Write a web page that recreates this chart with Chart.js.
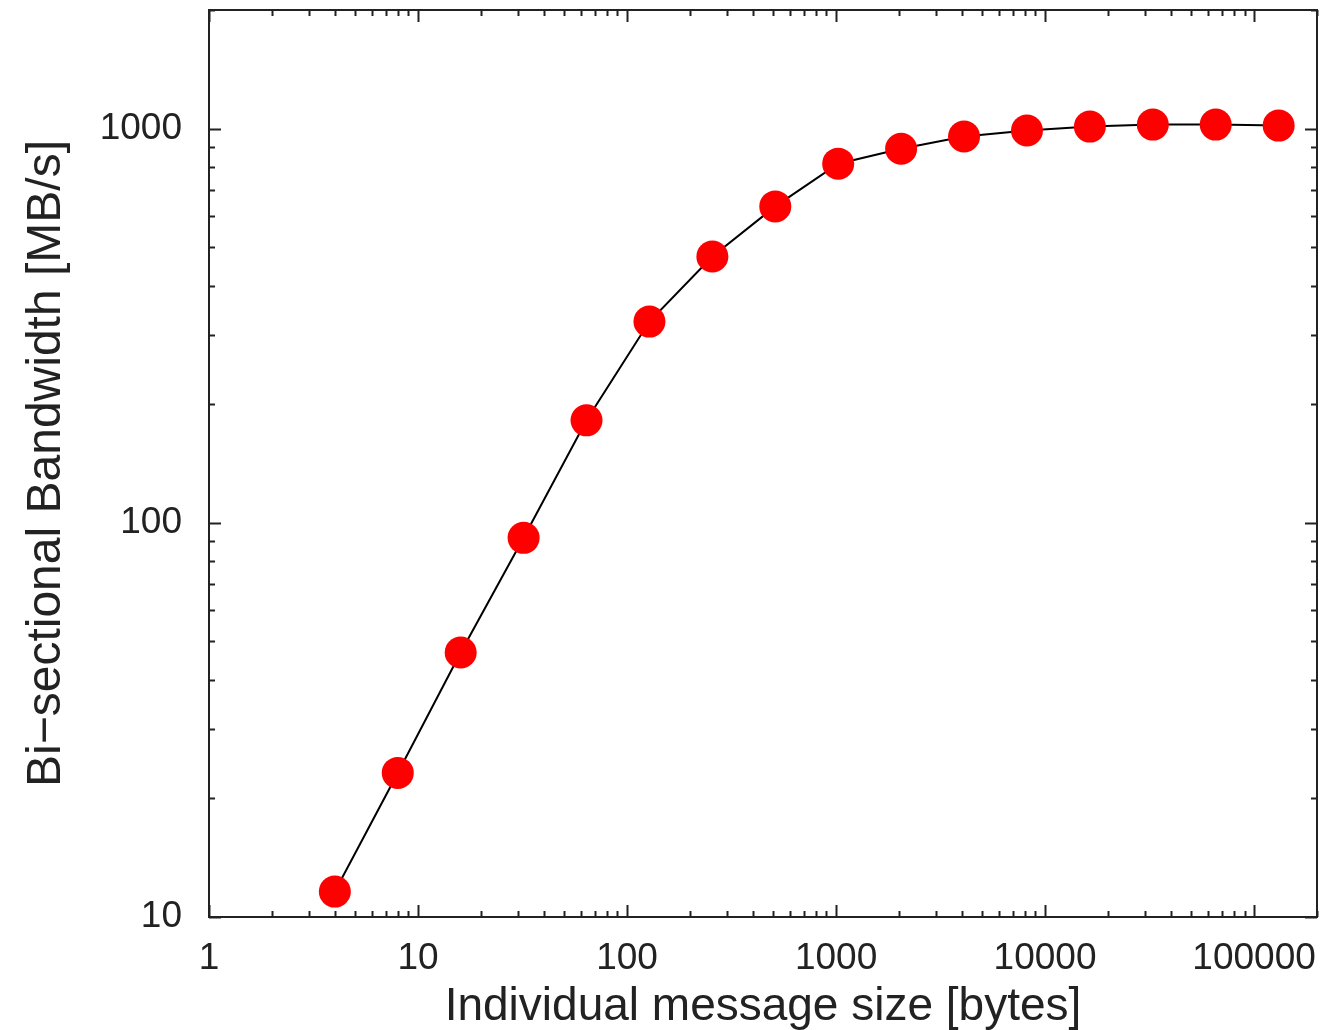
<!DOCTYPE html>
<html>
<head>
<meta charset="utf-8">
<script src="https://cdn.jsdelivr.net/npm/chart.js@4.4.1/dist/chart.umd.min.js"></script>
<style>
  html, body { margin: 0; padding: 0; background: #fff; }
  #wrap { width: 1331px; height: 1030px; }
</style>
</head>
<body>
<div id="wrap"><canvas id="chart" width="1331" height="1030"></canvas></div>
<script>
// datos
const messageSizes = [4, 8, 16, 32, 64, 128, 256, 512, 1024, 2048, 4096, 8192, 16384, 32768, 65536, 131072];
const bandwidth = [11.6, 23.2, 46.9, 91.6, 182, 324, 474, 635, 815, 889, 955, 989, 1012, 1024, 1024, 1018];
const xMajorTicks = [1, 10, 100, 1000, 10000, 100000];
const yMajorTicks = [10, 100, 1000];

const FONT = "'Liberation Sans', Arial, sans-serif";

// genera ticks mayores y menores (2..9) dentro del rango
function logTicks(min, max) {
    const out = [];
    for (let d = Math.pow(10, Math.floor(Math.log10(min))); d <= max; d *= 10) {
        for (let m = 1; m <= 9; m++) {
            const v = d * m;
            if (v >= min && v <= max) out.push({ value: v, major: m === 1 });
        }
    }
    return out;
}

// marco y ticks hacia adentro, estilo gnuplot
const framePlugin = {
    id: "frame",
    afterDatasetsDraw(chart) {
        const { ctx, chartArea: a, scales } = chart;
        ctx.save();
        ctx.strokeStyle = "#222";
        ctx.lineWidth = 2;
        ctx.beginPath();
        scales.x.ticks.forEach(t => {
            const px = Math.round(scales.x.getPixelForValue(t.value)) + 0.5;
            const len = t.major ? 12 : 6;
            ctx.moveTo(px, a.bottom); ctx.lineTo(px, a.bottom - len);
            ctx.moveTo(px, a.top); ctx.lineTo(px, a.top + len);
        });
        scales.y.ticks.forEach(t => {
            const py = Math.round(scales.y.getPixelForValue(t.value)) + 0.5;
            const len = t.major ? 12 : 6;
            ctx.moveTo(a.left, py); ctx.lineTo(a.left + len, py);
            ctx.moveTo(a.right, py); ctx.lineTo(a.right - len, py);
        });
        ctx.stroke();
        ctx.strokeRect(a.left, a.top, a.right - a.left, a.bottom - a.top);
        ctx.restore();
    }
};

const ctx = document.getElementById("chart").getContext("2d");
new Chart(ctx, {
    type: "line",
    data: {
        datasets: [{
            data: messageSizes.map((s, i) => ({ x: s, y: bandwidth[i] })),
            borderColor: "#000",
            borderWidth: 2,
            pointBackgroundColor: "#ff0000",
            pointBorderColor: "#ff0000",
            pointBorderWidth: 0,
            pointRadius: 16,
            tension: 0,
            clip: false
        }]
    },
    options: {
        responsive: false,
        animation: false,
        layout: { autoPadding: false, padding: { top: 10, right: 14, left: 0, bottom: 0 } },
        plugins: {
            legend: { display: false },
            tooltip: { enabled: false }
        },
        scales: {
            x: {
                type: "logarithmic",
                min: 1,
                max: 200000,
                grid: { display: false },
                border: { display: false },
                afterBuildTicks: s => { s.ticks = logTicks(1, 200000); },
                afterFit: s => { s.height = 113; s.paddingLeft = 0; s.paddingRight = 0; },
                ticks: {
                    autoSkip: false,
                    maxRotation: 0,
                    padding: 12,
                    color: "#222",
                    font: { family: FONT, size: 37 },
                    callback: v => xMajorTicks.includes(v) ? String(v) : ""
                },
                title: {
                    display: true,
                    text: "Individual message size [bytes]",
                    color: "#222",
                    font: { family: FONT, size: 46 },
                    padding: { top: 0, bottom: -5 }
                }
            },
            y: {
                type: "logarithmic",
                min: 10,
                max: 2000,
                grid: { display: false },
                border: { display: false },
                afterBuildTicks: s => { s.ticks = logTicks(10, 2000); },
                afterFit: s => { s.width = 209; s.paddingTop = 0; s.paddingBottom = 0; },
                ticks: {
                    autoSkip: false,
                    padding: 19,
                    color: "#222",
                    font: { family: FONT, size: 37 },
                    callback: v => yMajorTicks.includes(v) ? String(v) : ""
                },
                title: {
                    display: true,
                    text: "Bi\u2212sectional Bandwidth [MB/s]",
                    color: "#222",
                    font: { family: FONT, size: 48 },
                    padding: { top: 18, bottom: 0 }
                }
            }
        }
    },
    plugins: [framePlugin]
});
</script>
</body>
</html>
